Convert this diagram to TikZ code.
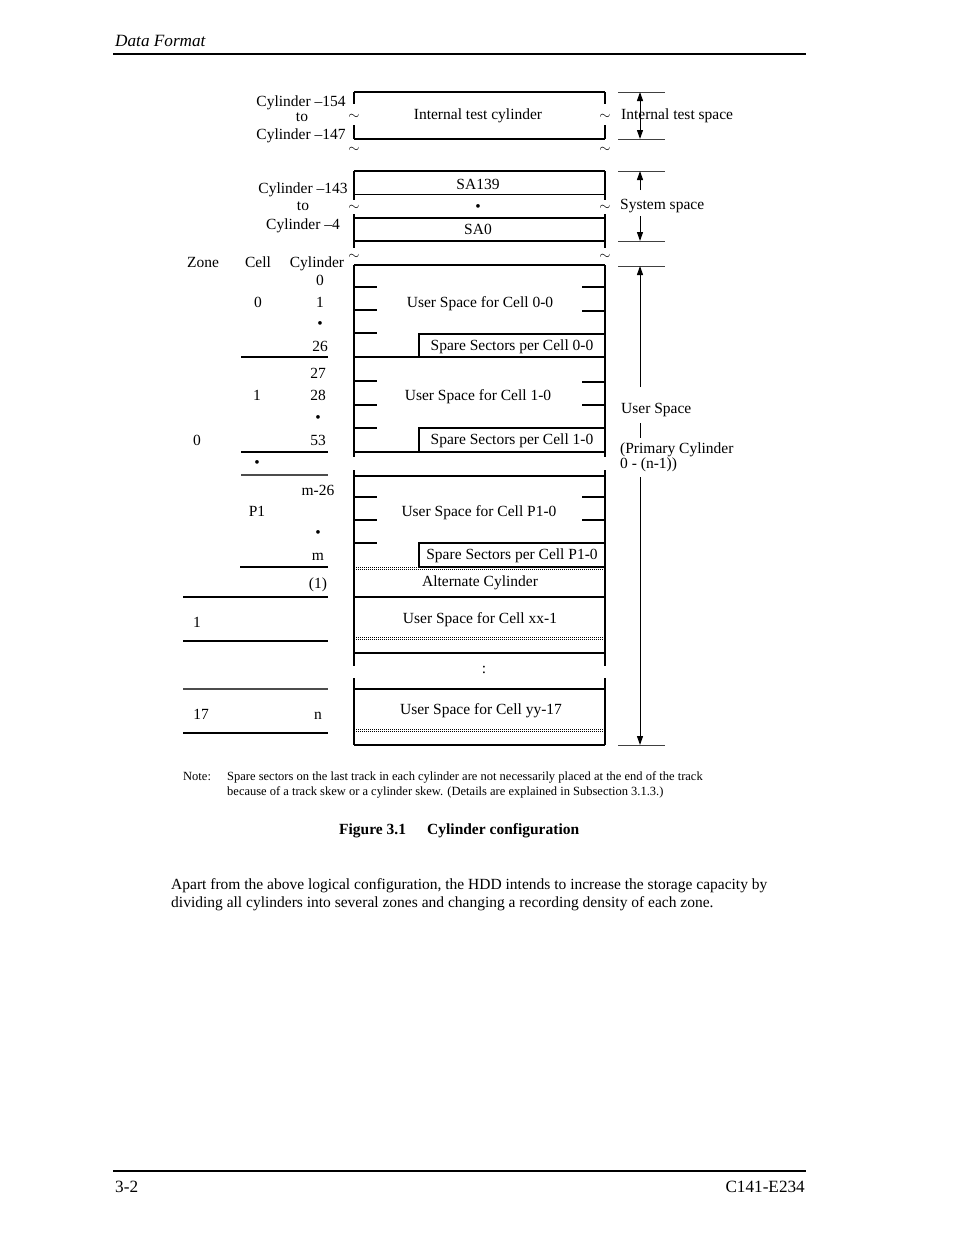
\documentclass[tikz,border=0pt]{standalone}
\usepackage{fontspec}
\setmainfont{Liberation Serif}
\usetikzlibrary{arrows.meta}
\begin{document}
\begin{tikzpicture}[x=1pt,y=-1pt,
  every node/.style={inner sep=0pt},
  t/.style={anchor=base, font=\fontsize{15.5}{18}\selectfont},
  tw/.style={anchor=base west, font=\fontsize{15.5}{18}\selectfont},
  tld/.style={anchor=center, font=\fontsize{15.5}{18}\selectfont},
  ln/.style={line width=1.2pt},
  thk/.style={line width=1.9pt},
  sbox/.style={line width=1.9pt},
  dots2/.style={line width=0.9pt, dash pattern=on 1pt off 1pt},
  tick/.style={line width=1.0pt, black!75},
  arr/.style={line width=1.0pt, -{Triangle[length=9pt,width=6pt]}},
  arr2/.style={line width=1.0pt, {Triangle[length=9pt,width=6pt]}-{Triangle[length=9pt,width=6pt]}},
]
\useasboundingbox (0,0) rectangle (954,1235);
\fill[white] (0,0) rectangle (954,1235);

% header / footer
\node[anchor=base west, font=\fontsize{17.2}{20}\selectfont\itshape] (hdr) at (115,46) {Data Format};
\draw[ln] (113,54) -- (806,54);
\draw[line width=1.8pt] (113,1171) -- (806,1171);
\node[anchor=base west, font=\fontsize{17.2}{20}\selectfont] (pg) at (115,1192) {3-2};
\node[anchor=base east, font=\fontsize{17.2}{20}\selectfont] (doc) at (805,1192) {C141-E234};

% ---------- internal test cylinder ----------
\draw[ln] (354,92) -- (605,92);
\draw[thk] (354,139) -- (605,139);
\foreach \x in {354,605} {
  \draw[ln] (\x,92) -- (\x,104);
  \draw[ln] (\x,125) -- (\x,139);
  \node[tld] at (\x,117) {$\sim$};
  \node[tld] at (\x,150) {$\sim$};
}
\node[t] (itc) at (478,119) {Internal test cylinder};
\node[t] (c154) at (301,106) {Cylinder –154};
\node[t] (to1) at (302,121) {to};
\node[t] (c147) at (301,139) {Cylinder –147};

% ---------- system space ----------
\draw[thk] (354,171) -- (605,171);
\draw[ln] (354,194.5) -- (605,194.5);
\draw[ln] (354,218) -- (605,218);
\draw[thk] (354,241) -- (605,241);
\foreach \x in {354,605} {
  \draw[ln] (\x,171) -- (\x,200);
  \draw[ln] (\x,214) -- (\x,248);
  \node[tld] at (\x,208) {$\sim$};
  \node[tld] at (\x,257) {$\sim$};
}
\node[t] (sa139) at (478,189) {SA139};
\node[t] (sdot) at (478,211) {•};
\node[t] (sa0) at (478,234) {SA0};
\node[t] (c143) at (303,193) {Cylinder –143};
\node[t] (to2) at (303,210) {to};
\node[t] (c4) at (303,229) {Cylinder –4};

% ---------- user space frame ----------
\draw[thk] (354,265) -- (605,265);
\foreach \x in {354,605} {
  \draw[ln] (\x,265) -- (\x,457);
  \draw[ln] (\x,470) -- (\x,666);
  \draw[ln] (\x,678) -- (\x,745);
}
\draw[ln] (354,357) -- (605,357);
\draw[ln] (354,452) -- (605,452);
\draw[thk] (354,476) -- (605,476);
\draw[dots2] (354,567) -- (605,567);
\draw[dots2] (354,569) -- (605,569);
\draw[ln] (354,597) -- (605,597);
\draw[dots2] (354,637) -- (605,637);
\draw[dots2] (354,639) -- (605,639);
\draw[thk] (354,653) -- (605,653);
\draw[thk] (354,689) -- (605,689);
\draw[dots2] (354,729) -- (605,729);
\draw[dots2] (354,731) -- (605,731);
\draw[ln] (354,745) -- (605,745);

% track ticks
\foreach \y in {287,310,333,381,405,428,497,520,543} \draw[ln] (354,\y) -- (377,\y);
\foreach \y in {287,311,382,405,497,520} \draw[ln] (582,\y) -- (605,\y);

% spare boxes
\draw[sbox] (419,334) rectangle (605,357);
\draw[sbox] (419,428) rectangle (605,452);
\draw[sbox] (419,543) rectangle (605,567);

% texts inside
\node[t] (us00) at (480,307) {User Space for Cell 0-0};
\node[t] (ss00) at (512,350) {Spare Sectors per Cell 0-0};
\node[t] (us10) at (478,400) {User Space for Cell 1-0};
\node[t] (ss10) at (512,444) {Spare Sectors per Cell 1-0};
\node[t] (usp1) at (479,516) {User Space for Cell P1-0};
\node[t] (ssp1) at (512,559) {Spare Sectors per Cell P1-0};
\node[t] (alt) at (480,586) {Alternate Cylinder};
\node[t] (usxx) at (480,623) {User Space for Cell xx-1};
\node[t] (colon) at (484,673) {:};
\node[t] (usyy) at (481,714) {User Space for Cell yy-17};

% ---------- left columns ----------
\node[t] (hzone) at (203,267) {Zone};
\node[t] (hcell) at (258,267) {Cell};
\node[t] (hcyl) at (317,267) {Cylinder};
\node[t] (y0) at (320,285) {0};
\node[t] (cl0) at (258,307) {0};
\node[t] (y1) at (320,307) {1};
\node[t] (yd1) at (320,328) {•};
\node[t] (y26) at (320,351) {26};
\node[t] (y27) at (318,378) {27};
\node[t] (cl1) at (257,400) {1};
\node[t] (y28) at (318,400) {28};
\node[t] (yd2) at (318,422) {•};
\node[t] (z0) at (197,445) {0};
\node[t] (y53) at (318,445) {53};
\node[t] (cd) at (257,467) {•};
\node[t] (ym26) at (318,495) {m-26};
\node[t] (clp1) at (257,516) {P1};
\node[t] (yd3) at (318,537) {•};
\node[t] (ym) at (318,560) {m};
\node[t] (y1p) at (318,588) {(1)};
\node[t] (z1) at (197,627) {1};
\node[t] (z17) at (201,719) {17};
\node[t] (yn) at (318,719) {n};

\draw[ln] (241,357) -- (328,357);
\draw[ln] (241,452) -- (328,452);
\draw[ln,black!70] (241,475) -- (328,475);
\draw[ln] (240,567) -- (328,567);
\draw[ln] (183,597) -- (328,597);
\draw[ln] (183,641) -- (328,641);
\draw[ln,black!70] (183,689) -- (328,689);
\draw[ln] (183,733) -- (328,733);

% ---------- right side dimension arrows ----------
\foreach \y in {92,139,171,241,266,745} \draw[tick] (618,\y) -- (665,\y);
\coordinate (it-top) at (640,92);
\coordinate (it-bot) at (640,139);
\coordinate (ss-top) at (640,171);
\coordinate (ss-a) at (640,190);
\coordinate (ss-b) at (640,216);
\coordinate (ss-bot) at (640,241);
\coordinate (us-top) at (640,266);
\coordinate (us-a) at (640,387);
\coordinate (us-b) at (640,423);
\coordinate (us-c) at (640,438);
\coordinate (us-d) at (640,477);
\coordinate (us-bot) at (640,745);
\draw[arr2] (it-top) -- (it-bot);
\draw[arr] (ss-a) -- (ss-top);
\draw[arr] (ss-b) -- (ss-bot);
\draw[arr] (us-a) -- (us-top);
\draw[line width=1.0pt] (us-b) -- (us-c);
\draw[arr] (us-d) -- (us-bot);
\node[tw] (its) at (621,119) {Internal test space};
\node[tw] (sys) at (620,209) {System space};
\node[tw] (usr) at (621,413) {User Space};
\node[tw] (pc1) at (620,453) {(Primary Cylinder};
\node[tw] (pc2) at (620,468) {0 - (n-1))};

% ---------- note and caption ----------
\node[anchor=base west, font=\fontsize{12.5}{15}\selectfont] (note) at (183,780) {Note:};
\node[anchor=base west, font=\fontsize{12.5}{15}\selectfont] (n1) at (227,780) {Spare sectors on the last track in each cylinder are not necessarily placed at the end of the track};
\node[anchor=base west, font=\fontsize{12.5}{15}\selectfont] (n2) at (227,795) {because of a track skew or a cylinder skew. (Details are explained in Subsection 3.1.3.)};
\node[anchor=base west, font=\fontsize{15.5}{18}\selectfont\bfseries] (fig) at (339,834) {Figure 3.1};
\node[anchor=base west, font=\fontsize{15.5}{18}\selectfont\bfseries] (cap) at (427,834) {Cylinder configuration};

% ---------- body ----------
\node[anchor=base west, font=\fontsize{15.5}{18}\selectfont] (b1) at (171,889) {Apart from the above logical configuration, the HDD intends to increase the storage capacity by};
\node[anchor=base west, font=\fontsize{15.5}{18}\selectfont] (b2) at (171,907) {dividing all cylinders into several zones and changing a recording density of each zone.};
\end{tikzpicture}
\end{document}
